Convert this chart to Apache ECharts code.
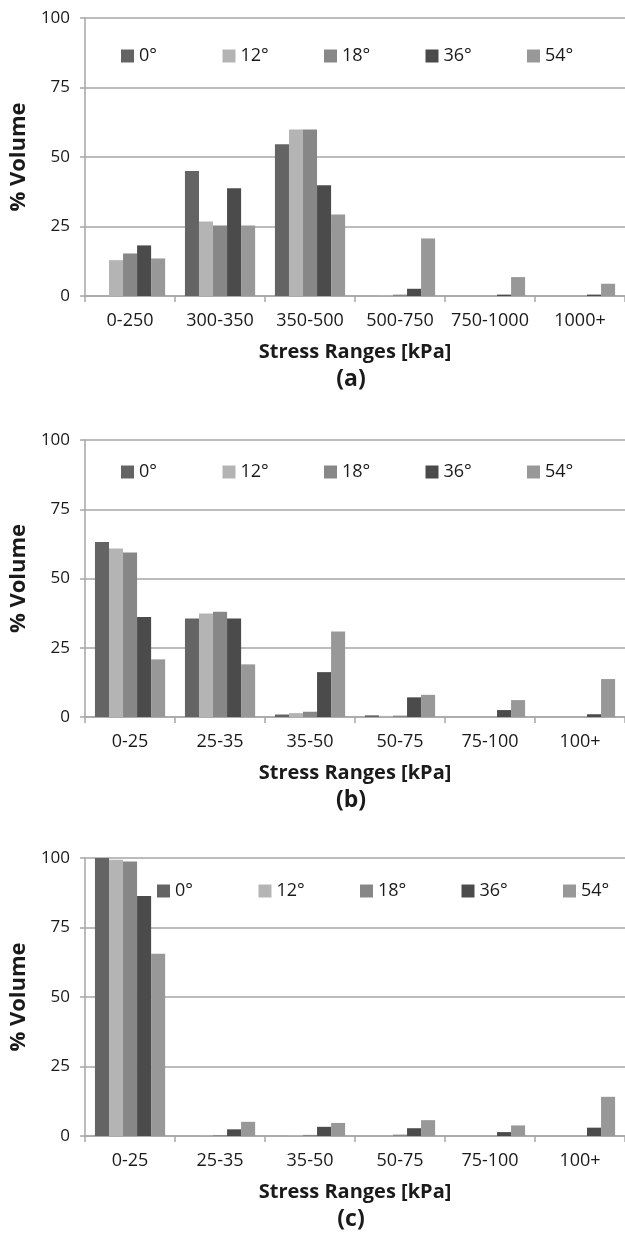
<!DOCTYPE html>
<html>
<head>
<meta charset="utf-8">
<script src="https://cdn.jsdelivr.net/npm/echarts@6/dist/echarts.min.js"></script>
<style>
html,body{margin:0;padding:0;background:#fff;}
#chart{width:625px;height:1238px;}
</style>
</head>
<body>
<div id="chart"></div>
<script>
// ---- data ----
const seriesNames = ['0°', '12°', '18°', '36°', '54°'];
const categoriesA = ['0-250', '300-350', '350-500', '500-750', '750-1000', '1000+'];
const categoriesBC = ['0-25', '25-35', '35-50', '50-75', '75-100', '100+'];
const yTicks = [0, 25, 50, 75, 100];

const a0  = [0,    45.0, 54.6, 0,    0,   0];
const a12 = [12.9, 26.8, 59.9, 0.3,  0,   0];
const a18 = [15.3, 25.4, 59.9, 0.5,  0,   0];
const a36 = [18.2, 38.8, 39.8, 2.6,  0.5, 0.5];
const a54 = [13.5, 25.4, 29.3, 20.7, 6.8, 4.4];

const b0  = [63.2, 35.6, 0.9,  0.6, 0,   0];
const b12 = [60.8, 37.4, 1.4,  0.4, 0,   0];
const b18 = [59.4, 38.0, 1.9,  0.5, 0,   0];
const b36 = [36.1, 35.6, 16.2, 7.1, 2.5, 1.0];
const b54 = [20.8, 19.0, 30.9, 8.0, 6.1, 13.7];

const c0  = [100,  0,   0,   0,   0,   0];
const c12 = [99.4, 0.2, 0.3, 0,   0,   0];
const c18 = [98.7, 0.3, 0.4, 0.5, 0,   0];
const c36 = [86.3, 2.4, 3.3, 2.8, 1.4, 3.0];
const c54 = [65.6, 5.1, 4.7, 5.7, 3.8, 14.1];

const panelLabels = ['(a)', '(b)', '(c)'];
const xTitle = 'Stress Ranges [kPa]';
const yTitle = '% Volume';

// ---- styling ----
const colors = ['#646464', '#b4b4b4', '#878787', '#4b4b4b', '#989898'];
const FONT = 'Open Sans';
const lineCol = '#a6a6a6';
const textCol = '#1a1a1a';

const panels = [
  { cats: categoriesA, data: [a0, a12, a18, a36, a54], top: 18, height: 278, legendTop: 47, legendLeft: 121 },
  { cats: categoriesBC, data: [b0, b12, b18, b36, b54], top: 440, height: 277, legendTop: 463, legendLeft: 121 },
  { cats: categoriesBC, data: [c0, c12, c18, c36, c54], top: 858, height: 278, legendTop: 882, legendLeft: 157 }
];
const legendStep = 101.5;

const option = {
  animation: false,
  backgroundColor: '#fff',
  textStyle: { fontFamily: FONT },
  grid: [], xAxis: [], yAxis: [], series: [], legend: [], title: []
};

panels.forEach((p, i) => {
  option.grid.push({ left: 78, right: 0, top: p.top, height: p.height, containLabel: false });
  option.xAxis.push({
    gridIndex: i, type: 'category', data: p.cats,
    axisLine: { lineStyle: { color: lineCol, width: 1.5 } },
    axisTick: { show: true, length: 6, lineStyle: { color: lineCol, width: 1.5 } },
    axisLabel: { fontSize: 18, color: textCol, margin: 16, interval: 0, fontFamily: FONT },
    name: xTitle, nameLocation: 'middle', nameGap: 46,
    nameTextStyle: { fontSize: 20, fontWeight: 'bold', color: textCol, fontFamily: FONT }
  });
  option.yAxis.push({
    gridIndex: i, type: 'value', min: yTicks[0], max: yTicks[yTicks.length - 1], interval: 25,
    axisLine: { show: true, lineStyle: { color: lineCol, width: 1.5 } },
    axisTick: { show: true, length: 5, lineStyle: { color: lineCol, width: 1.5 } },
    splitLine: { show: true, lineStyle: { color: lineCol, width: 1.5 } },
    axisLabel: { fontSize: 17, color: textCol, margin: 15, fontFamily: FONT },
    name: yTitle, nameLocation: 'middle', nameGap: 48, nameRotate: 90,
    nameTextStyle: { fontSize: 22, fontWeight: 'bold', color: textCol, fontFamily: FONT }
  });
  seriesNames.forEach((n, k) => {
    option.series.push({
      type: 'bar', name: n, xAxisIndex: i, yAxisIndex: i, data: p.data[k],
      itemStyle: { color: colors[k] }, barGap: '0%', barCategoryGap: '22%'
    });
    option.legend.push({
      data: [{ name: n, icon: 'rect' }],
      left: p.legendLeft + k * legendStep, top: p.legendTop,
      itemWidth: 13, itemHeight: 13, itemGap: 0, padding: 0,
      selectedMode: false,
      textStyle: { fontSize: 18, color: textCol, fontFamily: FONT }
    });
  });
  option.title.push({
    text: panelLabels[i], left: 351, textAlign: 'center',
    top: p.top + p.height + 72, padding: 0,
    textStyle: { fontSize: 23, fontWeight: 'bold', color: textCol, fontFamily: FONT }
  });
});

const chart = echarts.init(document.getElementById('chart'), null, { renderer: 'canvas' });
chart.setOption(option);
</script>
</body>
</html>
